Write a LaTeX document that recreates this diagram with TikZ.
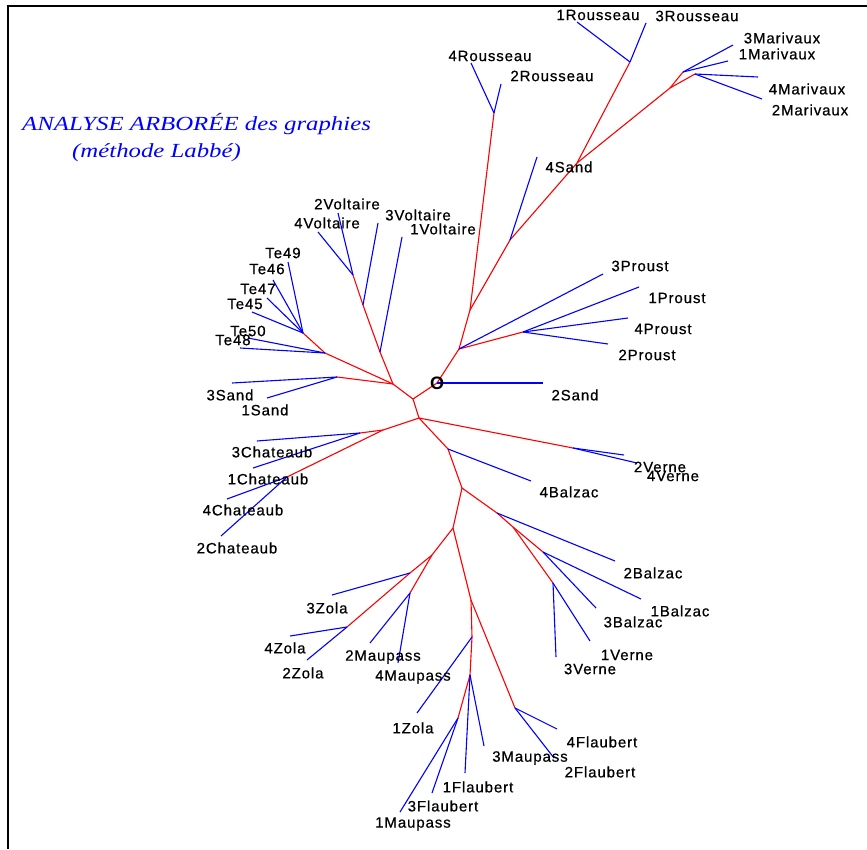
\documentclass[tikz,border=0pt]{standalone}
\usepackage{fontspec}
\setmainfont{Liberation Sans}
\newfontfamily\labfont[LetterSpace=6,FakeBold=0.6]{Liberation Sans}
\newfontfamily\titlefont[FakeStretch=1.24]{Liberation Serif}
\usepackage{tikz}

\begin{document}
\begin{tikzpicture}
[x=1pt, y=-1pt,
% STYLES
% The branch style is used for the inner edges of the tree
branch/.style={draw=red, line width=1.1pt},
% The twig style is used for the edges that end at a text
twig/.style={draw=blue, line width=1.1pt},
% The leaf style is used to write the texts' names
leaf/.style={inner sep=0pt, font=\labfont\fontsize{15}{15}\selectfont},
heading/.style={text=blue, inner sep=0pt, anchor=base west, font=\titlefont\itshape\fontsize{20}{20}\selectfont},
frame/.style={draw=black, line width=1.4pt}]

\useasboundingbox (0,0) rectangle (867,849);

% frame
\coordinate (f-top) at (867,6);
\coordinate (f-corner) at (8,6);
\coordinate (f-bottom) at (8,849);
\draw[frame] (f-top) -- (f-corner) -- (f-bottom);

% title
\node[heading] (title1) at (22,130) {ANALYSE ARBORÉE des graphies};
\node[heading] (title2) at (72,157) {(méthode Labbé)};

% Draw the inner nodes
\coordinate (o) at (437,383);
\coordinate (b) at (413,399);
\coordinate (c) at (393,384);
\coordinate (d) at (419,418);
\coordinate (e) at (459,349);
\coordinate (f) at (523,332);
\coordinate (g) at (470,310);
\coordinate (h) at (494,113);
\coordinate (i) at (510,240);
\coordinate (j) at (577,163);
\coordinate (k) at (630,62);
\coordinate (m) at (670,88);
\coordinate (l1) at (683,72);
\coordinate (l2) at (695,74);
\coordinate (n) at (380,352);
\coordinate (n2) at (363,305);
\coordinate (p) at (353,275);
\coordinate (q) at (337,377);
\coordinate (t1) at (325,353);
\coordinate (r) at (303,333);
\coordinate (u) at (383,430);
\coordinate (s) at (360,433);
\coordinate (t) at (287,477);
\coordinate (v) at (573,448);
\coordinate (w) at (448,449);
\coordinate (x) at (462,488);
\coordinate (y) at (497,513);
\coordinate (aa) at (513,527);
\coordinate (ag) at (543,552);
\coordinate (ah) at (553,583);
\coordinate (z) at (453,528);
\coordinate (ac) at (432,555);
\coordinate (ad) at (410,573);
\coordinate (af) at (347,627);
\coordinate (ae) at (410,593);
\coordinate (ab) at (471,600);
\coordinate (ai) at (515,708);
\coordinate (aj) at (472,637);
\coordinate (ak) at (470,675);
\coordinate (al) at (458,718);

% leaf ends
\coordinate (proust3) at (603,274);
\coordinate (proust1) at (639,287);
\coordinate (proust4) at (628,318);
\coordinate (proust2) at (608,344);
\coordinate (sand2) at (543,383);
\coordinate (rousseau4) at (471,63);
\coordinate (rousseau2) at (501,84);
\coordinate (sand4) at (537,157);
\coordinate (rousseau1) at (577,22);
\coordinate (rousseau3) at (646,23);
\coordinate (marivaux3) at (733,45);
\coordinate (marivaux1) at (728,61);
\coordinate (marivaux4) at (758,77);
\coordinate (marivaux2) at (762,99);
\coordinate (voltaire1) at (402,237);
\coordinate (voltaire3) at (378,223);
\coordinate (voltaire2) at (338,213);
\coordinate (voltaire4) at (318,232);
\coordinate (sand3) at (232,383);
\coordinate (sand1) at (267,398);
\coordinate (te50) at (248,338);
\coordinate (te48) at (240,348);
\coordinate (te45) at (252,312);
\coordinate (te47) at (267,298);
\coordinate (te46) at (273,280);
\coordinate (te49) at (288,262);
\coordinate (chateaub3) at (257,441);
\coordinate (chateaub1) at (253,468);
\coordinate (chateaub4) at (227,499);
\coordinate (chateaub2) at (221,536);
\coordinate (verne2) at (624,455);
\coordinate (verne4) at (637,463);
\coordinate (balzac4) at (531,481);
\coordinate (balzac2) at (615,561);
\coordinate (balzac1) at (641,599);
\coordinate (balzac3) at (596,608);
\coordinate (verne3) at (556,657);
\coordinate (verne1) at (590,641);
\coordinate (zola3) at (332,595);
\coordinate (zola4) at (290,636);
\coordinate (zola2) at (307,660);
\coordinate (maupass2) at (370,643);
\coordinate (maupass4) at (398,663);
\coordinate (flaubert4) at (557,729);
\coordinate (flaubert2) at (554,758);
\coordinate (zola1) at (417,713);
\coordinate (flaubert1) at (465,773);
\coordinate (maupass3) at (484,746);
\coordinate (flaubert3) at (432,793);
\coordinate (maupass1) at (400,812);

% Draw the red branches
\path[branch]
(o) edge (b)
(b) edge (c)
(b) edge (d)
(o) edge (e)
(e) edge (f)
(e) edge (g)
(g) edge (h)
(g) edge (i)
(i) edge (j)
(j) edge (k)
(j) edge (m)
(m) edge (l1)
(m) edge (l2)
(c) edge (n)
(n) edge (n2)
(n2) edge (p)
(c) edge (q)
(c) edge (t1)
(t1) edge (r)
(d) edge (u)
(u) edge (s)
(u) edge (t)
(d) edge (v)
(d) edge (w)
(w) edge (x)
(x) edge (y)
(y) edge (aa)
(aa) edge (ag)
(aa) edge (ah)
(x) edge (z)
(z) edge (ac)
(ac) edge (ad)
(ad) edge (af)
(ac) edge (ae)
(z) edge (ab)
(ab) edge (ai)
(ab) edge (aj)
(aj) edge (ak)
(ak) edge (al);

% Draw the blue twigs
\path[twig]
(e) edge (proust3)
(f) edge (proust1) (f) edge (proust4) (f) edge (proust2)
(o) edge (sand2)
(h) edge (rousseau4) (h) edge (rousseau2)
(i) edge (sand4)
(k) edge (rousseau1) (k) edge (rousseau3)
(l1) edge (marivaux3) (l1) edge (marivaux1)
(l2) edge (marivaux4) (l2) edge (marivaux2)
(n) edge (voltaire1)
(n2) edge (voltaire3)
(p) edge (voltaire2) (p) edge (voltaire4)
(q) edge (sand3) (q) edge (sand1)
(t1) edge (te50) (t1) edge (te48)
(r) edge (te45) (r) edge (te47) (r) edge (te46) (r) edge (te49)
(s) edge (chateaub3) (s) edge (chateaub1)
(t) edge (chateaub4) (t) edge (chateaub2)
(v) edge (verne2) (v) edge (verne4)
(w) edge (balzac4)
(y) edge (balzac2)
(ag) edge (balzac1) (ag) edge (balzac3)
(ah) edge (verne3) (ah) edge (verne1)
(ad) edge (zola3)
(af) edge (zola4) (af) edge (zola2)
(ae) edge (maupass2) (ae) edge (maupass4)
(ai) edge (flaubert4) (ai) edge (flaubert2)
(aj) edge (zola1)
(ak) edge (flaubert1) (ak) edge (maupass3)
(al) edge (flaubert3) (al) edge (maupass1);

% centre mark
\node[inner sep=0pt, font=\bfseries\fontsize{18}{18}\selectfont] (o-txt) at (o) {O};

% Write the texts' names
\node[leaf] (t-rousseau1) at (598,15) {1Rousseau};
\node[leaf] (t-rousseau3) at (697,16) {3Rousseau};
\node[leaf] (t-rousseau4) at (490,56) {4Rousseau};
\node[leaf] (t-rousseau2) at (552,76) {2Rousseau};
\node[leaf] (t-marivaux3) at (782,38) {3Marivaux};
\node[leaf] (t-marivaux1) at (777,54) {1Marivaux};
\node[leaf] (t-marivaux4) at (807,89) {4Marivaux};
\node[leaf] (t-marivaux2) at (810,110) {2Marivaux};
\node[leaf] (t-sand4) at (569,167) {4Sand};
\node[leaf] (t-proust3) at (640,266) {3Proust};
\node[leaf] (t-proust1) at (677,298) {1Proust};
\node[leaf] (t-proust4) at (663,329) {4Proust};
\node[leaf] (t-proust2) at (647,355) {2Proust};
\node[leaf] (t-sand2) at (575,395) {2Sand};
\node[leaf] (t-voltaire2) at (347,204) {2Voltaire};
\node[leaf] (t-voltaire4) at (327,223) {4Voltaire};
\node[leaf] (t-voltaire3) at (418,215) {3Voltaire};
\node[leaf] (t-voltaire1) at (443,229) {1Voltaire};
\node[leaf] (t-te49) at (283,253) {Te49};
\node[leaf] (t-te46) at (267,269) {Te46};
\node[leaf] (t-te47) at (258,289) {Te47};
\node[leaf] (t-te45) at (245,304) {Te45};
\node[leaf] (t-te50) at (248,331) {Te50};
\node[leaf] (t-te48) at (233,340) {Te48};
\node[leaf] (t-sand3) at (230,395) {3Sand};
\node[leaf] (t-sand1) at (265,410) {1Sand};
\node[leaf] (t-chateaub3) at (272,452) {3Chateaub};
\node[leaf] (t-chateaub1) at (268,479) {1Chateaub};
\node[leaf] (t-chateaub4) at (243,510) {4Chateaub};
\node[leaf] (t-chateaub2) at (237,548) {2Chateaub};
\node[leaf] (t-verne2) at (660,467) {2Verne};
\node[leaf] (t-verne4) at (673,476) {4Verne};
\node[leaf] (t-balzac4) at (569,492) {4Balzac};
\node[leaf] (t-balzac2) at (653,573) {2Balzac};
\node[leaf] (t-balzac1) at (680,611) {1Balzac};
\node[leaf] (t-balzac3) at (633,622) {3Balzac};
\node[leaf] (t-verne1) at (627,655) {1Verne};
\node[leaf] (t-verne3) at (590,669) {3Verne};
\node[leaf] (t-zola3) at (327,608) {3Zola};
\node[leaf] (t-zola4) at (285,648) {4Zola};
\node[leaf] (t-zola2) at (303,673) {2Zola};
\node[leaf] (t-maupass2) at (383,657) {2Maupass};
\node[leaf] (t-maupass4) at (413,677) {4Maupass};
\node[leaf] (t-zola1) at (413,728) {1Zola};
\node[leaf] (t-maupass3) at (530,758) {3Maupass};
\node[leaf] (t-flaubert4) at (602,742) {4Flaubert};
\node[leaf] (t-flaubert2) at (600,772) {2Flaubert};
\node[leaf] (t-flaubert1) at (478,787) {1Flaubert};
\node[leaf] (t-flaubert3) at (443,806) {3Flaubert};
\node[leaf] (t-maupass1) at (413,824) {1Maupass};

\end{tikzpicture}
\end{document}
